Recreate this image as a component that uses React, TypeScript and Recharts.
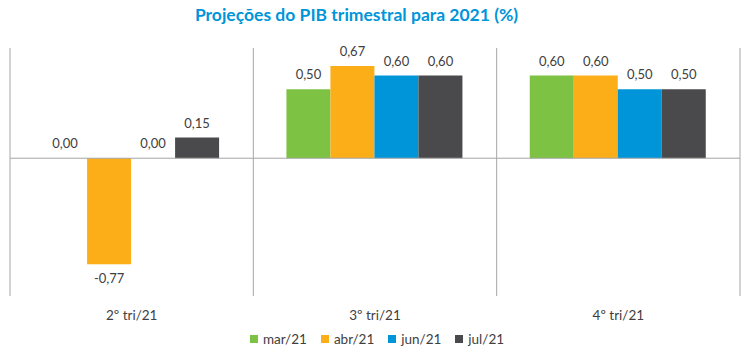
import React from "react";
import { Bar, BarChart, CartesianGrid, LabelList, Legend, ReferenceLine, XAxis, YAxis } from "recharts";

const QUARTERS = ["2º tri/21", "3º tri/21", "4º tri/21"];
const MAR21 = [0.0, 0.5, 0.6];
const ABR21 = [-0.77, 0.67, 0.6];
const JUN21 = [0.0, 0.6, 0.5];
const JUL21 = [0.15, 0.6, 0.5];

const SERIES = [
  { key: "mar", name: "mar/21", color: "#7dc242" },
  { key: "abr", name: "abr/21", color: "#fbae17" },
  { key: "jun", name: "jun/21", color: "#0095d9" },
  { key: "jul", name: "jul/21", color: "#4a4a4c" }
];

const data = QUARTERS.map((q, i) => ({
  quarter: q,
  mar: MAR21[i],
  abr: ABR21[i],
  jun: JUN21[i],
  jul: JUL21[i]
}));

const FONT = "Lato, 'Open Sans', sans-serif";
const TEXT = "#404040";

const fmt = (v: number) => v.toFixed(2).replace(".", ",");

function ValueLabel(props: any) {
  const { x, y, width, height, value } = props;
  const top = Math.min(y, y + height);
  const bottom = Math.max(y, y + height);
  const cx = x + width / 2;
  const neg = value < 0;
  return (
    <text
      x={cx}
      y={neg ? bottom + 19 : top - 10}
      textAnchor="middle"
      fill={TEXT}
      fontSize={13}
      fontFamily={FONT}
    >
      {fmt(value)}
    </text>
  );
}

function LegendBox() {
  return (
    <div style={{ display: "flex", justifyContent: "center", gap: 14, marginLeft: 4, paddingTop: 5 }}>
      {SERIES.map((s) => (
        <span key={s.key} style={{ display: "flex", alignItems: "center", fontFamily: FONT, fontSize: 13.5, color: TEXT }}>
          <span style={{ width: 8, height: 8, background: s.color, marginRight: 5, display: "inline-block" }} />
          {s.name}
        </span>
      ))}
    </div>
  );
}

export default function App() {
  return (
    <div style={{ position: "absolute", left: 0, top: 0, width: 750, height: 355, background: "#fff" }}>
      <div
        style={{
          position: "absolute",
          left: 0,
          top: 4,
          width: 713,
          textAlign: "center",
          color: "#0095d9",
          fontFamily: FONT,
          fontWeight: 700,
          fontSize: 17.5
        }}
      >
        Projeções do PIB trimestral para 2021 (%)
      </div>
      <BarChart
        width={750}
        height={355}
        data={data}
        margin={{ top: 48, right: 10, left: 10, bottom: 5 }}
        barCategoryGap="13.6%"
        barGap={0}
      >
        <CartesianGrid
          horizontal={false}
          stroke="#a6a6a6"
          verticalCoordinatesGenerator={({ offset }: any) =>
            [0, 1, 2, 3].map((i) => offset.left + (i * offset.width) / QUARTERS.length)
          }
        />
        <XAxis
          dataKey="quarter"
          axisLine={false}
          tickLine={false}
          height={30}
          tick={{ fill: TEXT, fontSize: 13.5, fontFamily: FONT, dy: 6 }}
        />
        <YAxis hide domain={[-1, 0.8]} />
        <ReferenceLine y={0} stroke="#a6a6a6" />
        {SERIES.map((s) => (
          <Bar key={s.key} dataKey={s.key} name={s.name} fill={s.color} minPointSize={0.01} isAnimationActive={false}>
            <LabelList dataKey={s.key} content={<ValueLabel />} />
          </Bar>
        ))}
        <Legend verticalAlign="bottom" height={24} content={<LegendBox />} />
      </BarChart>
    </div>
  );
}
